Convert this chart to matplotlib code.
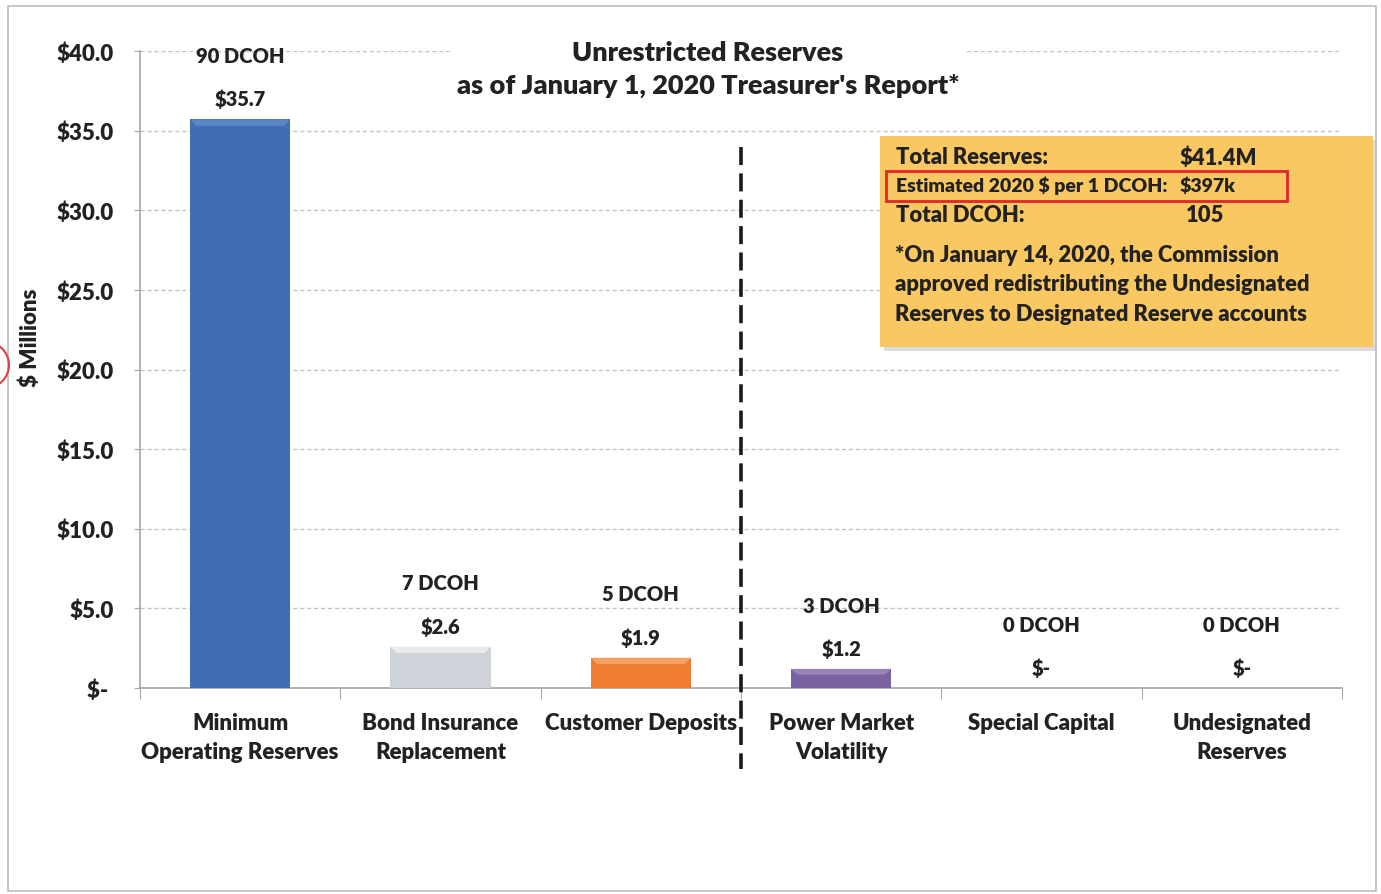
import matplotlib
matplotlib.use("Agg")
import matplotlib.pyplot as plt
from matplotlib.patches import Rectangle, Ellipse, Polygon

# ---- data -------------------------------------------------------------
categories = [
    "Minimum\nOperating Reserves",
    "Bond Insurance\nReplacement",
    "Customer Deposits",
    "Power Market\nVolatility",
    "Special Capital",
    "Undesignated\nReserves",
]
values = [35.7, 2.6, 1.9, 1.2, 0.0, 0.0]          # $ millions
dcoh_days = [90, 7, 5, 3, 0, 0]
bar_colors = ["#3F6EB2", "#CDD3D8", "#EE7D31", "#7A62A0", "#A0A0A0", "#A0A0A0"]
bevel_colors = ["#5A86C4", "#E8ECEF", "#F5A063", "#9884B8", "#C0C0C0", "#C0C0C0"]

y_ticks = [0, 5, 10, 15, 20, 25, 30, 35, 40]
y_tick_labels = ["$- ", "$5.0", "$10.0", "$15.0", "$20.0", "$25.0", "$30.0", "$35.0", "$40.0"]

title_text = "Unrestricted Reserves\nas of January 1, 2020 Treasurer's Report*"
summary_labels = ["Total Reserves:", "Estimated 2020 $ per 1 DCOH:", "Total DCOH:"]
summary_values = ["$41.4M", "$397k", "105"]
footnote = ("*On January 14, 2020, the Commission\n"
            "approved redistributing the Undesignated\n"
            "Reserves to Designated Reserve accounts")

# ---- style ------------------------------------------------------------
plt.rcParams["font.family"] = ["Lato", "DejaVu Sans"]
plt.rcParams["text.parse_math"] = False
TXT = "#222222"
WT = "heavy"

W, H = 1381, 895
fig = plt.figure(figsize=(W / 100, H / 100), dpi=100)


def fx(x):
    return x / W


def fy(y):
    return 1 - y / H


ax = fig.add_axes([fx(140), fy(689), (1342 - 140) / W, (689 - 52) / H])

x = list(range(len(categories)))
bar_w = 0.5
ax.bar(x, values, width=bar_w, color=bar_colors, edgecolor="none", zorder=3)

# soft bevel along the top edge of each bar
for xi, v, bc in zip(x, values, bevel_colors):
    if v <= 0:
        continue
    bev = min(0.4, v * 0.3)
    inset = 0.03
    ax.add_patch(Polygon([(xi - bar_w / 2, v), (xi + bar_w / 2, v),
                          (xi + bar_w / 2 - inset, v - bev),
                          (xi - bar_w / 2 + inset, v - bev)],
                         closed=True, facecolor=bc, edgecolor="none", zorder=4))

ax.set_xlim(-0.5, len(categories) - 0.5)
ax.set_ylim(0, 40)

# y axis
ax.set_yticks(y_ticks)
ax.set_yticklabels(y_tick_labels)
for lbl in ax.get_yticklabels():
    lbl.set_fontweight(WT)
    lbl.set_fontsize(16)
    lbl.set_color(TXT)
ax.tick_params(axis="y", length=4, color="#A6A6A6", pad=15)

# x axis: boundary tick marks, category labels at centres
ax.set_xticks([i - 0.5 for i in range(len(categories) + 1)])
ax.set_xticklabels([])
ax.tick_params(axis="x", which="major", length=8, color="#A6A6A6")
ax.set_xticks(x, minor=True)
ax.set_xticklabels(categories, minor=True, fontsize=16, fontweight=WT,
                   color=TXT, linespacing=1.5)
ax.tick_params(axis="x", which="minor", length=0, pad=17)

for side in ("top", "right"):
    ax.spines[side].set_visible(False)
for side in ("left", "bottom"):
    ax.spines[side].set_color("#A6A6A6")
    ax.spines[side].set_linewidth(1.2)

ax.yaxis.grid(True, linestyle=(0, (3, 2)), color="#C4C4C4", linewidth=1)
ax.set_axisbelow(True)

# bar labels
for xi, v, d in zip(x, values, dcoh_days):
    vtxt = f"${v:.1f}" if v > 0 else "$-"
    ax.annotate(vtxt, (xi, v), xytext=(0, 15), textcoords="offset points",
                ha="center", va="center", fontsize=14.5, fontweight=WT,
                color=TXT, zorder=6)
    ax.annotate(f"{d} DCOH", (xi, v), xytext=(0, 46), textcoords="offset points",
                ha="center", va="center", fontsize=14.5, fontweight=WT,
                color=TXT, zorder=6)

# divider between groups of reserves
ax.plot([2.5, 2.5], [34.0, -5.1], color="#1A1A1A", linewidth=2.6,
        dashes=(5, 2.3), clip_on=False, zorder=5)

# title
ax.text((708 - 140) / (1342 - 140), (689 - 69.5) / (689 - 52), title_text,
        transform=ax.transAxes, ha="center", va="center", fontsize=19.5,
        fontweight=WT, color=TXT, linespacing=1.45, zorder=7,
        bbox=dict(facecolor="white", edgecolor="none", pad=5))

# y label
fig.text(fx(30), fy(338), "$ Millions", rotation=90, ha="center", va="center",
         fontsize=16, fontweight=WT, color=TXT)

# summary box
fig.patches.append(Rectangle((fx(884), fy(352)), 493 / W, 211 / H,
                             transform=fig.transFigure, facecolor="#9A9A9A",
                             alpha=0.35, edgecolor="none", zorder=1))
fig.patches.append(Rectangle((fx(880), fy(348)), 493 / W, 211 / H,
                             transform=fig.transFigure, facecolor="#FAC863",
                             edgecolor="none", zorder=2))
rows_y = [158, 186, 215]
sizes = [15.8, 14, 15.8]
val_x = [1180, 1180, 1186]
for lab, val, yy, s, vx in zip(summary_labels, summary_values, rows_y, sizes, val_x):
    fig.text(fx(896), fy(yy), lab, ha="left", va="center", fontsize=s,
             fontweight=WT, color=TXT, zorder=3)
    fig.text(fx(vx), fy(yy), val, ha="left", va="center", fontsize=s,
             fontweight=WT, color=TXT, zorder=3)
fig.patches.append(Rectangle((fx(886), fy(202)), 401 / W, 30 / H,
                             transform=fig.transFigure, facecolor="none",
                             edgecolor="#E0262A", linewidth=2, zorder=3))
fig.text(fx(895), fy(285), footnote, ha="left", va="center", fontsize=15.8,
         fontweight=WT, color=TXT, linespacing=1.5, zorder=3)

# page frame and margin mark
fig.patches.append(Rectangle((fx(8), fy(892)), 1368 / W, 885 / H,
                             transform=fig.transFigure, facecolor="none",
                             edgecolor="#BDBDBD", linewidth=1.2, zorder=1))
fig.patches.append(Ellipse((fx(-14), fy(366)), 46 / W, 46 / H,
                           transform=fig.transFigure, facecolor="none",
                           edgecolor="#D9423F", linewidth=1.5, zorder=1))

fig.savefig("out.png", dpi=100)
